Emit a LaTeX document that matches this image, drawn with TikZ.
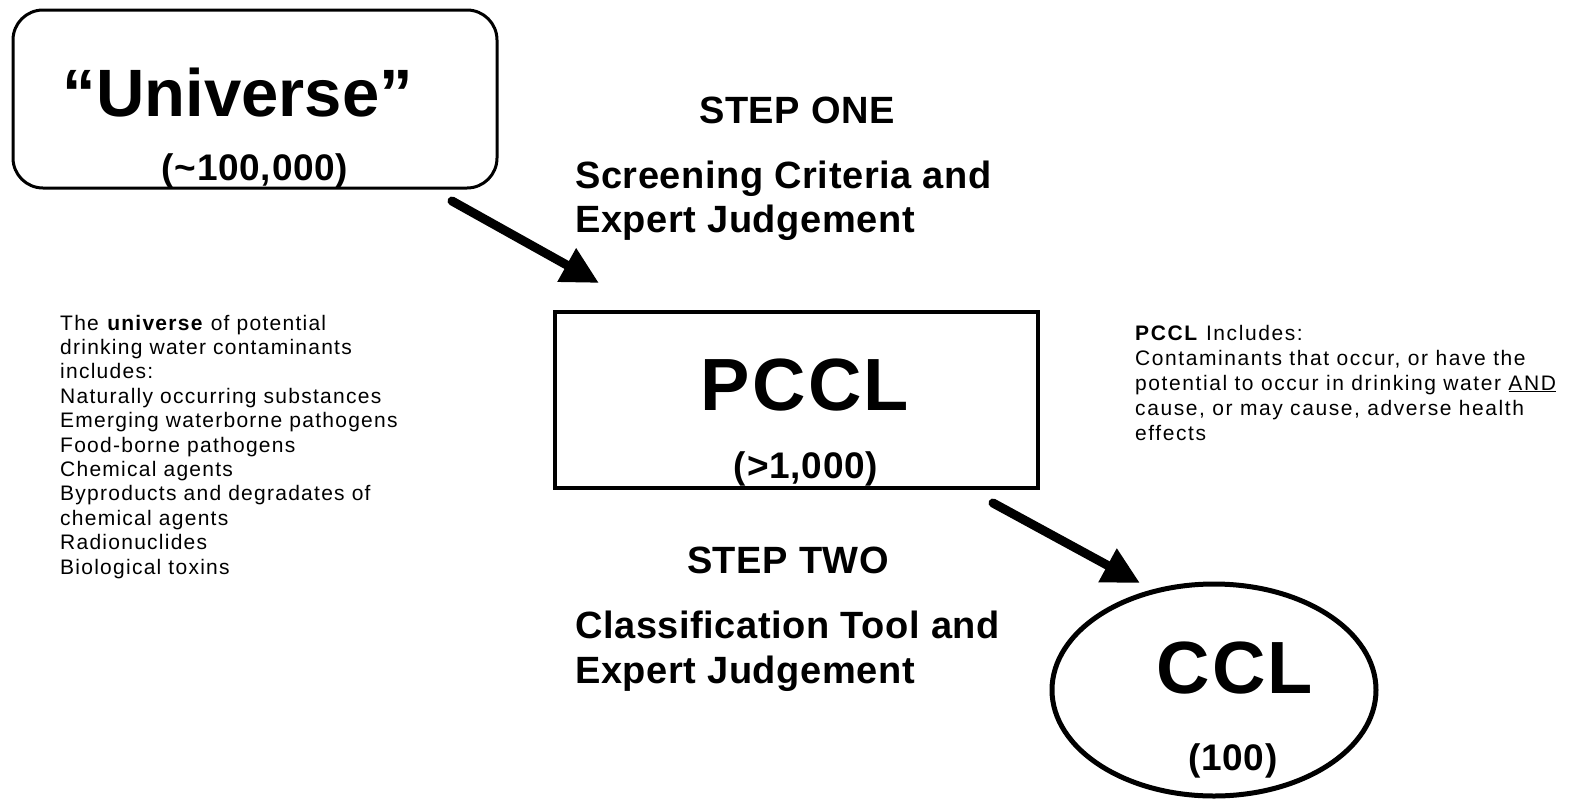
\documentclass[tikz,border=0pt]{standalone}
\usepackage{fontspec}
\setmainfont{Liberation Sans}
\usetikzlibrary{arrows.meta,shapes.geometric}
\begin{document}
\begin{tikzpicture}[x=1pt,y=-1pt,
  box/.style={draw, inner sep=0pt},
  headtext/.style={font=\fontsize{38}{44}\selectfont\bfseries\addfontfeature{LetterSpace=1.5}, inner sep=0pt},
  bigtext/.style={inner sep=0pt, anchor=base, font=\fontsize{74}{76}\selectfont\bfseries\addfontfeature{LetterSpace=3}},
  counttext/.style={inner sep=0pt, anchor=base, font=\fontsize{37}{40}\selectfont\bfseries\addfontfeature{LetterSpace=2}},
  lefttext/.style={font=\fontsize{21}{24}\selectfont\addfontfeature{LetterSpace=6}, inner sep=0pt, anchor=base west},
  righttext/.style={font=\fontsize{21}{24}\selectfont\addfontfeature{LetterSpace=7.5}, inner sep=0pt, anchor=base west},
  bigarrow/.style={line width=9pt, line cap=round, -{Triangle[length=37pt,width=36pt]}}]
\useasboundingbox (0,0) rectangle (1575,801);
% boxes
\node[box, line width=3pt, rounded corners=30pt, minimum width=484pt, minimum height=178pt] (univ) at (255,99) {};
\node[box, line width=3.5pt, minimum width=483pt, minimum height=176pt] (pccl) at (796.5,400) {};
\node[box, ellipse, line width=5pt, minimum width=324pt, minimum height=212pt] (ccl) at (1214,690) {};
% box texts
\node[inner sep=0pt, anchor=base, font=\fontsize{67}{70}\selectfont\bfseries] (utitle) at (238,116) {“Universe”};
\node[counttext] (ucount) at (255,180) {(\textasciitilde100,000)};
\node[bigtext] (ptitle) at (805,410) {PCCL};
\node[counttext] (pcount) at (806,478) {(>1,000)};
\node[bigtext] (ctitle) at (1235,693) {CCL};
\node[counttext] (ccount) at (1233,770) {(100)};
% step headings
\node[headtext, anchor=base] (step1) at (797,123) {STEP ONE};
\node[headtext, anchor=base west] (crit1a) at (575,188) {Screening Criteria and};
\node[headtext, anchor=base west] (crit1b) at (575,232) {Expert Judgement};
\node[headtext, anchor=base] (step2) at (788,573) {STEP TWO};
\node[headtext, anchor=base west] (crit2a) at (575,638) {Classification Tool and};
\node[headtext, anchor=base west] (crit2b) at (575,683) {Expert Judgement};
% left description
\foreach \t [count=\i] in {{The \textbf{universe} of potential},
  {drinking water contaminants},
  {includes:},
  {Naturally occurring substances},
  {Emerging waterborne pathogens},
  {Food-borne pathogens},
  {Chemical agents},
  {Byproducts and degradates of},
  {chemical agents},
  {Radionuclides},
  {Biological toxins}}
  \node[lefttext] (left\i) at (60,{330+(\i-1)*24.4}) {\t};
% right description
\foreach \t [count=\i] in {{\textbf{PCCL} Includes:},
  {Contaminants that occur, or have the},
  {potential to occur in drinking water \underline{AND}},
  {cause, or may cause, adverse health},
  {effects}}
  \node[righttext] (right\i) at (1135,{340+(\i-1)*25}) {\t};
% arrows
\coordinate (a1s) at (452,201);
\coordinate (a1e) at (599,283);
\coordinate (a2s) at (993,503);
\coordinate (a2e) at (1140,583);
\draw[bigarrow] (a1s) -- (a1e);
\draw[bigarrow] (a2s) -- (a2e);
\end{tikzpicture}
\end{document}
